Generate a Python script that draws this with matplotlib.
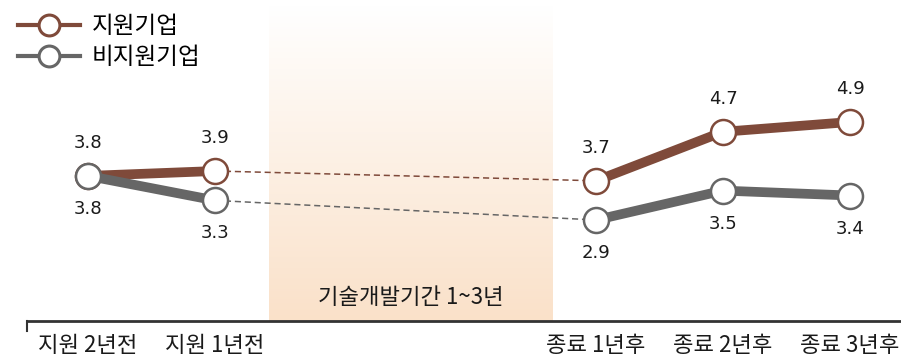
import matplotlib
matplotlib.use("Agg")
import matplotlib.pyplot as plt
from matplotlib.colors import LinearSegmentedColormap
from matplotlib.lines import Line2D
import numpy as np

plt.rcParams["font.family"] = ["Noto Sans CJK KR", "DejaVu Sans"]

# data
periods = ["지원 2년전", "지원 1년전", "종료 1년후", "종료 2년후", "종료 3년후"]
xpos = [0, 1, 4, 5, 6]
supported = [3.8, 3.9, 3.7, 4.7, 4.9]
unsupported = [3.8, 3.3, 2.9, 3.5, 3.4]
series_names = ["지원기업", "비지원기업"]
band_label = "기술개발기간 1~3년"

BROWN = "#7f4a3a"
GREY = "#666666"
INK = "#1a1a1a"

W, H = 901, 358
fig = plt.figure(figsize=(W / 100, H / 100), dpi=100)
ax = fig.add_axes([27 / W, 37 / H, 1 - 27 / W, 1 - 37 / H])

px_per_unit = 49.0
y_ref, y_ref_px = 2.9, 220.0  # pixel from top
axis_px = 321.0
ylo = y_ref - (axis_px - y_ref_px) / px_per_unit
yhi = y_ref + y_ref_px / px_per_unit
xlo, xhi = -61 / 127, (W - 88) / 127
ax.set_xlim(xlo, xhi)
ax.set_ylim(ylo, yhi)

# shaded development period band (gradient, white on top -> peach at bottom)
cmap = LinearSegmentedColormap.from_list("band", ["#fae1c9", "#ffffff"])
grad = np.linspace(0, 1, 256).reshape(-1, 1)
band_top = y_ref + (y_ref_px - 5) / px_per_unit
ax.imshow(grad, cmap=cmap, aspect="auto", origin="lower",
          extent=[1.425, 3.655, ylo, band_top], zorder=0)
ax.text(2.54, y_ref - (297 - y_ref_px) / px_per_unit, band_label,
        ha="center", va="center", fontsize=16, color=INK, zorder=1)

# dashed connectors across the band
for vals, c in ((supported, BROWN), (unsupported, GREY)):
    ax.plot(xpos[1:3], vals[1:3], color=c, lw=1.1, ls=(0, (4, 2.5)), zorder=2)

# solid segments
for vals, c in ((supported, BROWN), (unsupported, GREY)):
    kw = dict(color=c, lw=7, solid_capstyle="butt", marker="o", ms=18,
              mfc="white", mec=c, mew=1.8, zorder=3)
    ax.plot(xpos[:2], vals[:2], **kw)
    ax.plot(xpos[2:], vals[2:], **kw)

# value labels
for vals, dy in ((supported, 33), (unsupported, -33)):
    for x, v in zip(xpos, vals):
        ax.annotate(f"{v:.1f}", (x, v), textcoords="offset pixels",
                    xytext=(0, dy), ha="center", va="center",
                    fontsize=13, color=INK, family="DejaVu Sans")

# axis styling
for s in ("top", "right", "left"):
    ax.spines[s].set_visible(False)
ax.spines["bottom"].set_color("#333333")
ax.spines["bottom"].set_linewidth(2)
ax.plot([xlo, xlo], [0, -0.03], transform=ax.get_xaxis_transform(),
        color="#333333", lw=1.5, clip_on=False)
ax.set_yticks([])
ax.set_xticks(xpos)
ax.set_xticklabels(periods, fontsize=16, color=INK)
ax.tick_params(axis="x", length=0, pad=9)

# legend
handles = [Line2D([0], [0], color=c, lw=3, marker="o", ms=15, mfc="white",
                  mec=c, mew=2.2) for c in (BROWN, GREY)]
fig.legend(handles, series_names, loc="upper left",
           bbox_to_anchor=(4 / W, 1 - 1 / H), frameon=False, fontsize=17,
           handlelength=2.6, handletextpad=0.5, labelspacing=0.35,
           borderaxespad=0.2)

fig.savefig("out.png", dpi=100)
